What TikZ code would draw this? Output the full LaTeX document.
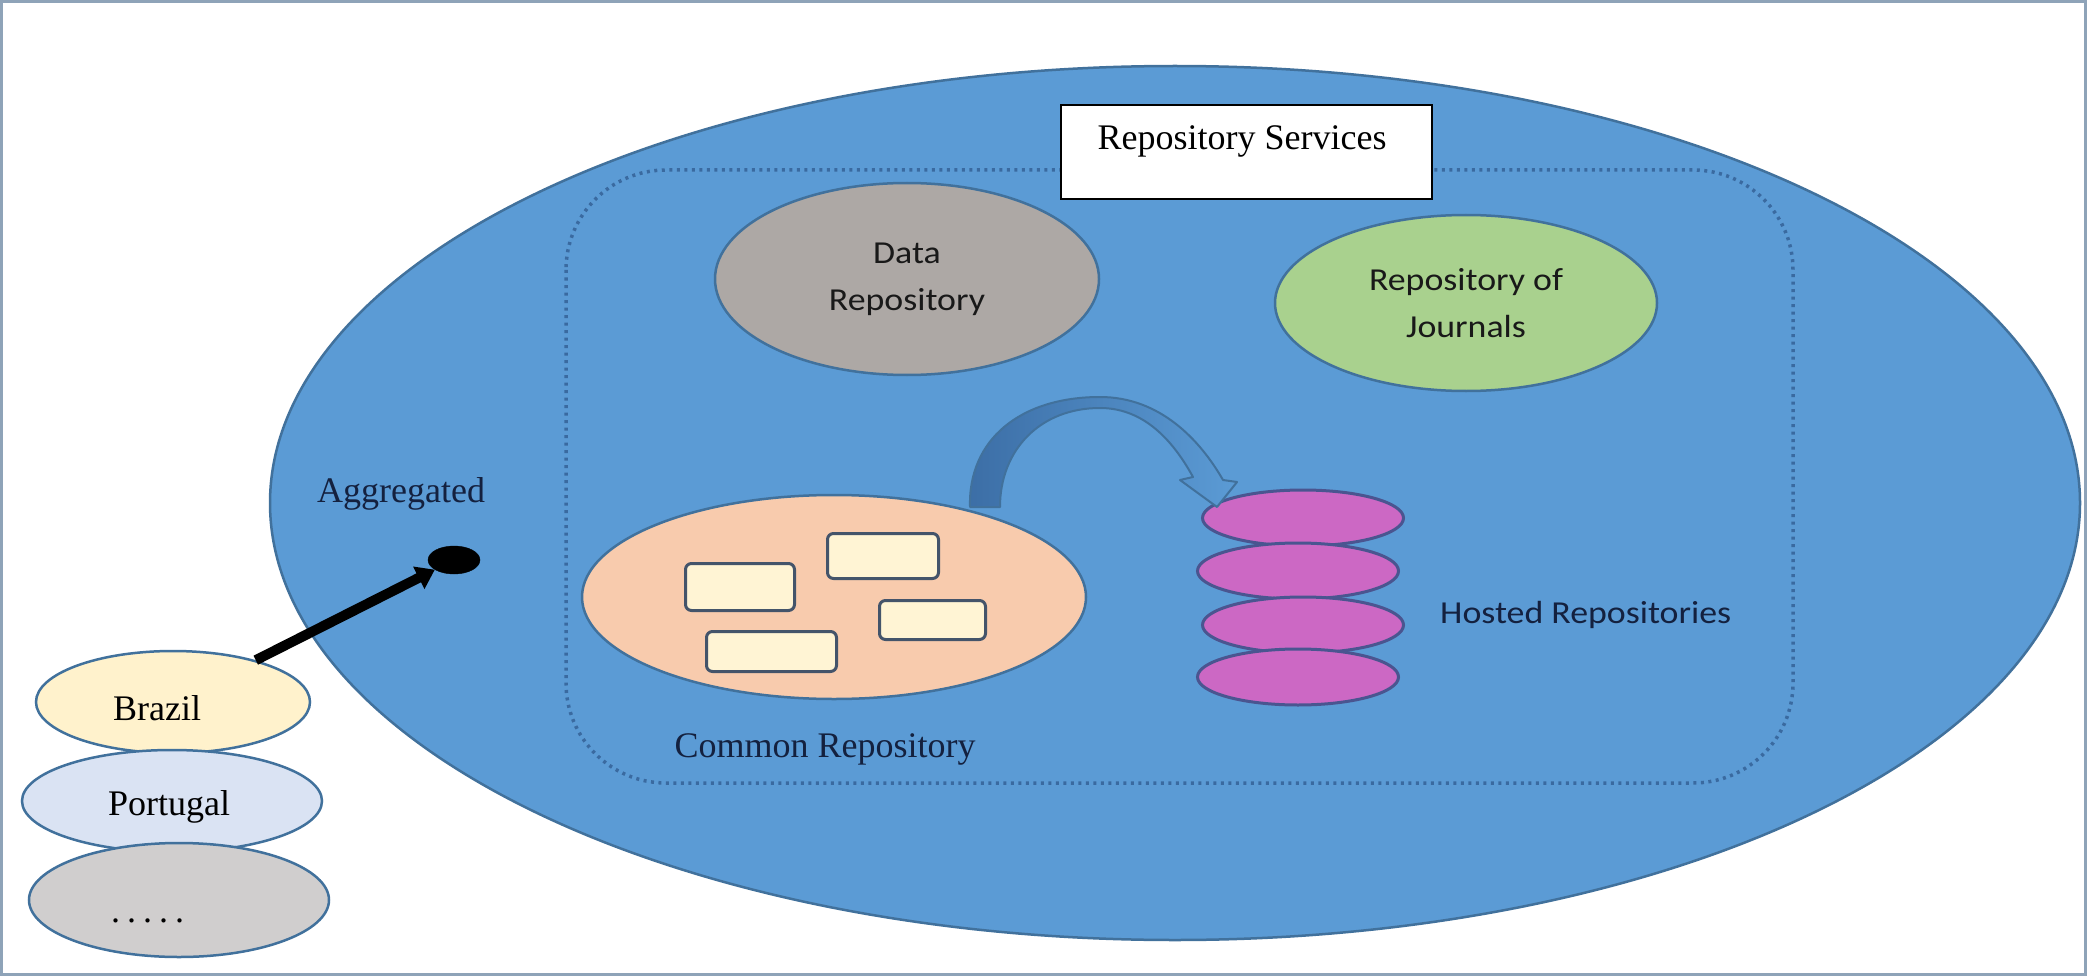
\documentclass[tikz,border=0pt]{standalone}
\usepackage{fontspec}
\setmainfont{Liberation Serif}
\newfontfamily\carl{Carlito}[FakeStretch=1.12]
\usetikzlibrary{shapes.geometric,arrows.meta}
\definecolor{bigblue}{HTML}{5B9BD5}
\definecolor{edgeblue}{HTML}{41719C}
\definecolor{dotblue}{HTML}{3A6AA0}
\definecolor{framecol}{HTML}{8EA3B8}
\definecolor{datagray}{HTML}{ADA8A5}
\definecolor{jgreen}{HTML}{A9D18E}
\definecolor{peach}{HTML}{F8CBAD}
\definecolor{paleyellow}{HTML}{FFF4D4}
\definecolor{rectedge}{HTML}{44546A}
\definecolor{magenta}{HTML}{CC68C4}
\definecolor{magedge}{HTML}{4A5590}
\definecolor{brazilfill}{HTML}{FFF2CC}
\definecolor{portfill}{HTML}{DAE3F3}
\definecolor{grayfill}{HTML}{D0CECE}
\definecolor{navy}{HTML}{14213F}
\definecolor{arrowdark}{HTML}{3C6EA6}
\begin{document}
\begin{tikzpicture}[x=1pt,y=-1pt,
  ell/.style={ellipse, draw=edgeblue, line width=2.5pt, inner sep=0pt},
  srect/.style={rectangle, draw=rectedge, line width=3pt, rounded corners=6pt, fill=paleyellow, inner sep=0pt, anchor=north west},
  hosted/.style={ellipse, draw=magedge, line width=3pt, fill=magenta, minimum width=201pt, minimum height=56pt, inner sep=0pt},
  country/.style={ellipse, draw=edgeblue, line width=2.5pt, inner sep=0pt},
  serif/.style={font=\fontsize{36}{45}\selectfont, inner sep=0pt},
  sans/.style={font=\carl\fontsize{32}{47}\selectfont, align=center, inner sep=0pt},
  dots/.style={draw=dotblue, line width=3.5pt, dash pattern=on 3pt off 4.5pt}
]
\useasboundingbox (0,0) rectangle (2087,976);
\fill[white] (0,0) rectangle (2087,976);
\draw[framecol, line width=3pt] (1.5,1.5) rectangle (2085.5,974.5);

% big ellipse
\node[ell, fill=bigblue, minimum width=1810pt, minimum height=874pt] (outer) at (1175,503) {};

% dotted rounded container
\draw[dots, rounded corners=100pt] (566,170) rectangle (1793,783);

% Repository Services box
\node[rectangle, draw=black, line width=2pt, fill=white, minimum width=371pt, minimum height=94pt, anchor=north west, inner sep=0pt] (rsbox) at (1060,104) {};
\node[serif, anchor=base] (rstext) at (1242,150) {Repository Services};

% Data repository
\node[ell, fill=datagray, minimum width=384pt, minimum height=192pt, sans, text=black!90] (data) at (907,279) {Data\\Repository};

% Repository of Journals
\node[ell, fill=jgreen, minimum width=382pt, minimum height=176pt, sans, text=black!90] (journals) at (1466,303) {Repository of\\Journals};

% Common repository
\node[ell, fill=peach, minimum width=504pt, minimum height=204pt] (common) at (834,597) {};
\node[srect, minimum width=109pt, minimum height=47pt] (r1) at (684,562) {};
\node[srect, minimum width=111pt, minimum height=45pt] (r2) at (826,532) {};
\node[srect, minimum width=106pt, minimum height=39pt] (r3) at (878,599) {};
\node[srect, minimum width=130pt, minimum height=40pt] (r4) at (705,630) {};
\node[serif, text=navy, anchor=base] (commonlbl) at (825,757) {Common Repository};

% Hosted repositories
\node[hosted] (h1) at (1303,518) {};
\node[hosted] (h2) at (1298,571) {};
\node[hosted] (h3) at (1303,625) {};
\node[hosted] (h4) at (1298,677) {};
\node[sans, text=navy, anchor=base west] (hostedlbl) at (1440,623) {Hosted Repositories};

% curved block arrow from common to hosted
\shadedraw[left color=arrowdark, right color=bigblue, draw=edgeblue, line width=2pt, line join=round]
  (970,507) .. controls (968,440) and (1020,397) .. (1100,397)
  .. controls (1160,397) and (1200,440) .. (1223,480)
  -- (1237,482) -- (1217,507) -- (1180,480) -- (1193,477)
  .. controls (1170,435) and (1140,408) .. (1100,408)
  .. controls (1040,408) and (1000,450) .. (1000,507) -- cycle;

% Aggregated
\node[serif, text=navy, anchor=base west] (agglbl) at (317,502) {Aggregated};
\node[ellipse, fill=black, draw=black, minimum width=52pt, minimum height=28pt, inner sep=0pt] (dot) at (454,560) {};

% countries
\node[country, fill=brazilfill, minimum width=274pt, minimum height=102pt] (brazil) at (173,702) {};
\node[country, fill=portfill, minimum width=300pt, minimum height=102pt] (portugal) at (172,801) {};
\node[country, fill=grayfill, minimum width=300pt, minimum height=114pt] (others) at (179,900) {};
\node[serif, anchor=base west] (brazillbl) at (113,720) {Brazil};
\node[serif, anchor=base west] (portlbl) at (108,815) {Portugal};
\node[serif, anchor=base west] (otherlbl) at (111,922) {.\kern7pt.\kern7pt.\kern7pt.\kern7pt.};

% aggregation arrow
\draw[line width=10pt, -{Triangle[width=24pt,length=18pt]}] (brazil) -- (dot);
\end{tikzpicture}
\end{document}
